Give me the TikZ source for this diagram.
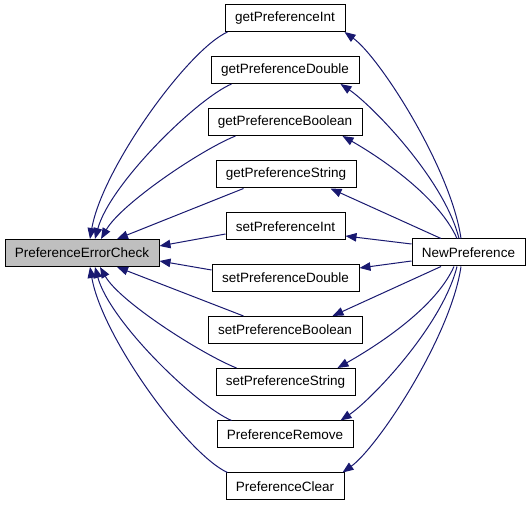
\documentclass[tikz,border=0pt]{standalone}
\usepackage{fontspec}
\setmainfont{Liberation Sans}
\usetikzlibrary{arrows.meta,calc}
\definecolor{edgeblue}{RGB}{25,25,112}
\definecolor{pecgrey}{RGB}{191,191,191}
\tikzset{
  fnbox/.style={draw=black, line width=1pt, fill=white, minimum height=27pt, inner xsep=2pt, inner ysep=0pt, font=\fontsize{13.5}{16}\selectfont},
  calledge/.style={draw=edgeblue, line width=1pt, -{Triangle[length=11pt,width=8.5pt]}}
}
\begin{document}
\begin{tikzpicture}[x=1pt,y=-1pt]
\useasboundingbox (0,0) rectangle (531,505);
\node[fnbox, fill=pecgrey, minimum width=154pt] (pec) at (82,253) {PreferenceErrorCheck};
\node[fnbox, minimum width=113pt] (np) at (468.5,252.5) {NewPreference};
\node[fnbox, minimum width=120pt] (gpi) at (285,18) {getPreferenceInt};
\node[fnbox, minimum width=148pt] (gpd) at (285,70) {getPreferenceDouble};
\node[fnbox, minimum width=154pt] (gpb) at (285,122) {getPreferenceBoolean};
\node[fnbox, minimum width=140pt] (gps) at (286,174.5) {getPreferenceString};
\node[fnbox, minimum width=119pt] (spi) at (285.5,226.5) {setPreferenceInt};
\node[fnbox, minimum width=147pt] (spd) at (285.5,278) {setPreferenceDouble};
\node[fnbox, minimum width=154pt] (spb) at (285,330) {setPreferenceBoolean};
\node[fnbox, minimum width=139pt] (sps) at (285.5,382) {setPreferenceString};
\node[fnbox, minimum width=136pt] (pr) at (285,434.5) {PreferenceRemove};
\node[fnbox, minimum width=118pt] (pc) at (285,486.5) {PreferenceClear};
% edges to PreferenceErrorCheck
\draw[calledge] ($(gpi.south west)+(3,0)$) .. controls +(-40,18) and +(12,-70) .. ($(pec.north)+(8,0)$);
\draw[calledge] ($(gpd.south west)+(21,0)$) .. controls +(-35,15) and +(15,-55) .. ($(pec.north)+(13,0)$);
\draw[calledge] ($(gpb.south west)+(28,0)$) .. controls +(-35,14) and +(20,-35) .. ($(pec.north)+(19,0)$);
\draw[calledge] ($(gps.south west)+(28,0)$) -- ($(pec.north)+(35,0)$);
\draw[calledge] ($(spi.west)+(0,7.5)$) -- ($(pec.east)+(0,-7)$);
\draw[calledge] ($(spd.west)+(0,-8)$) -- ($(pec.east)+(0,8)$);
\draw[calledge] ($(spb.north west)+(36,0)$) -- ($(pec.south)+(35,0)$);
\draw[calledge] ($(sps.north west)+(21,0)$) .. controls +(-35,-14) and +(20,35) .. ($(pec.south)+(18,0)$);
\draw[calledge] ($(pr.north west)+(15,0)$) .. controls +(-35,-15) and +(15,55) .. ($(pec.south)+(13,0)$);
\draw[calledge] ($(pc.north west)+(2,0)$) .. controls +(-40,-18) and +(12,70) .. ($(pec.south)+(8,0)$);
% edges from NewPreference
\draw[calledge] ($(np.north)+(-7.5,0)$) .. controls +(-10,-70) and +(35,25) .. ($(gpi.south east)+(-1,0)$);
\draw[calledge] ($(np.north)+(-9.5,0)$) .. controls +(-15,-60) and +(30,20) .. ($(gpd.south east)+(-19,0)$);
\draw[calledge] ($(np.north)+(-11.5,0)$) .. controls +(-20,-45) and +(30,17) .. ($(gpb.south east)+(-20,0)$);
\draw[calledge] ($(np.north)+(-27.5,0)$) -- ($(gps.south east)+(-26,0)$);
\draw[calledge] ($(np.west)+(0,-8.5)$) -- ($(spi.east)+(0,9.5)$);
\draw[calledge] ($(np.west)+(0,8.5)$) -- ($(spd.east)+(0,-10)$);
\draw[calledge] ($(np.south)+(-27.5,0)$) -- ($(spb.north east)+(-30,0)$);
\draw[calledge] ($(np.south)+(-14.5,0)$) .. controls +(-20,45) and +(30,-17) .. ($(sps.north east)+(-18,0)$);
\draw[calledge] ($(np.south)+(-11.5,0)$) .. controls +(-15,60) and +(30,-20) .. ($(pr.north east)+(-13,0)$);
\draw[calledge] ($(np.south)+(-7.5,0)$) .. controls +(-10,70) and +(35,-25) .. ($(pc.north east)+(-2,0)$);
\end{tikzpicture}
\end{document}
